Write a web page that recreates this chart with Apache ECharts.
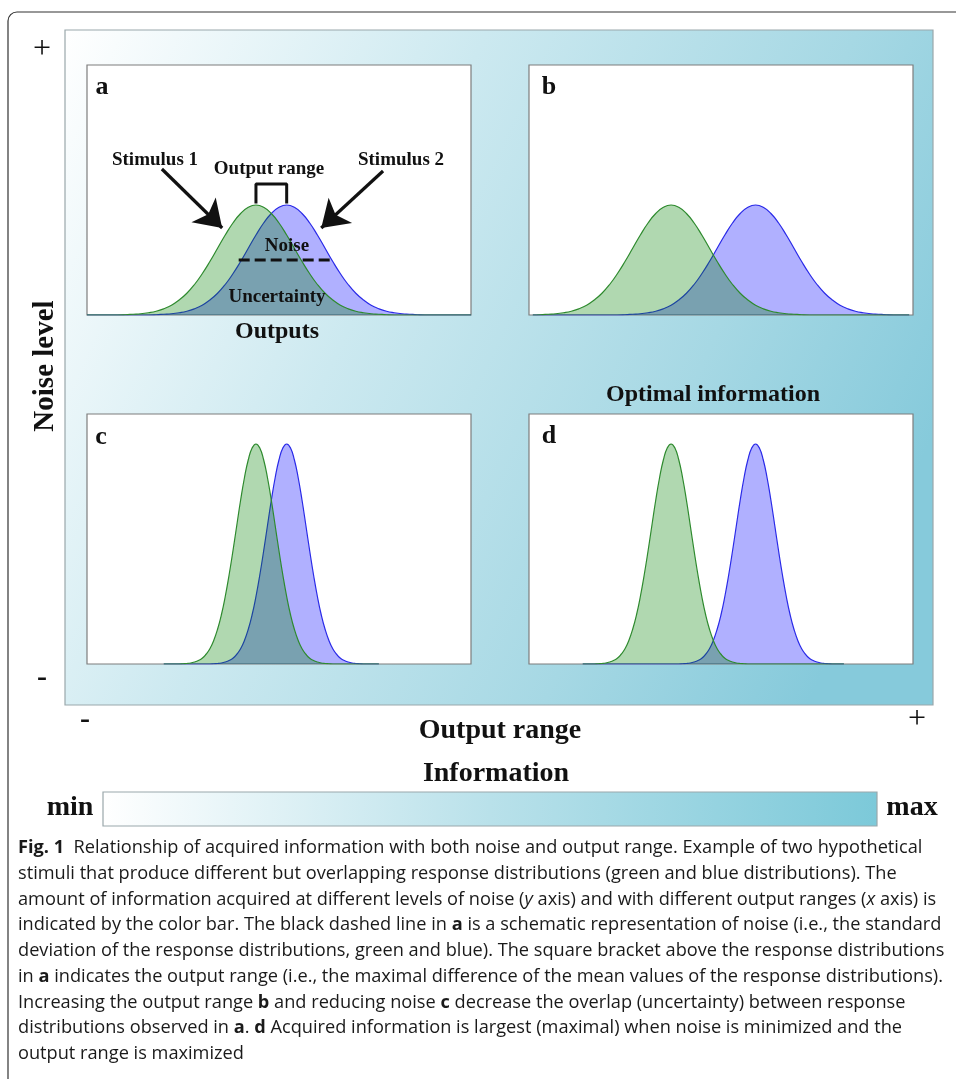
<!DOCTYPE html>
<html>
<head>
<meta charset="utf-8">
<script src="https://cdn.jsdelivr.net/npm/echarts@6.0.0/dist/echarts.min.js"></script>
<style>
html,body{margin:0;padding:0;background:#fff;}
#chart{width:956px;height:1079px;}
</style>
</head>
<body>
<div id="chart"></div>
<script>
// sample positions across each panel (0..100 = panel width)
const gridEven = [0,2,4,6,8,10,12,14,16,18,20,22,24,26,28,30,32,34,36,38,40,42,44,46,48,50,52,54,56,58,60,62,64,66,68,70,72,74,76,78,80,82,84,86,88,90,92,94,96,98,100];
const gridOdd = [1,3,5,7,9,11,13,15,17,19,21,23,25,27,29,31,33,35,37,39,41,43,45,47,49,51,53,55,57,59,61,63,65,67,69,71,73,75,77,79,81,83,85,87,89,91,93,95,97,99];
const gridC = [20,21,22,23,24,25,26,27,28,29,30,31,32,33,34,35,36,37,38,39,40,41,42,43,44,45,46,47,48,49,50,51,52,53,54,55,56,57,58,59,60,61,62,63,64,65,66,67,68,69,70,71,72,73,74,75,76];
const gridD = [14,15,16,17,18,19,20,21,22,23,24,25,26,27,28,29,30,31,32,33,34,35,36,37,38,39,40,41,42,43,44,45,46,47,48,49,50,51,52,53,54,55,56,57,58,59,60,61,62,63,64,65,66,67,68,69,70,71,72,73,74,75,76,77,78,79,80,81,82];

// response distributions (height, 0..100 = panel height)
const aGreen = [0,0,0,0,0, 0.1,0.3,0.5,0.9,1.5,2.5,3.9,6.0,8.7,12.2,16.5,21.4,26.7,32.0,36.8,40.6,43.1,44,43.1,40.6,36.8,32.0,26.7,21.4,16.5,12.2,8.7,6.0,3.9,2.5,1.5,0.9,0.5,0.3,0.1, 0,0,0,0,0, 0,0,0,0,0, 0];
const aBlue  = [0,0,0,0,0, 0,0,0,0, 0.1,0.3,0.5,0.9,1.5,2.5,3.9,6.0,8.7,12.2,16.5,21.4,26.7,32.0,36.8,40.6,43.1,44,43.1,40.6,36.8,32.0,26.7,21.4,16.5,12.2,8.7,6.0,3.9,2.5,1.5,0.9,0.5,0.3,0.1, 0,0,0,0,0, 0,0];
const bGreen = [0, 0.1,0.3,0.5,0.9,1.5,2.5,3.9,6.0,8.7,12.2,16.5,21.4,26.7,32.0,36.8,40.6,43.1,44,43.1,40.6,36.8,32.0,26.7,21.4,16.5,12.2,8.7,6.0,3.9,2.5,1.5,0.9,0.5,0.3,0.1, 0,0,0,0,0, 0,0,0,0,0, 0,0,0,0];
const bBlue  = [0,0,0,0,0, 0,0,0,0,0, 0,0, 0.1,0.3,0.5,0.9,1.5,2.5,3.9,6.0,8.7,12.2,16.5,21.4,26.7,32.0,36.8,40.6,43.1,44,43.1,40.6,36.8,32.0,26.7,21.4,16.5,12.2,8.7,6.0,3.9,2.5,1.5,0.9,0.5,0.3,0.1, 0,0,0];
const cGreen = [0,0,0,0,0, 0.1,0.2,0.4,0.8,1.4,2.3,3.9,6.1,9.4,13.9,19.7,27.0,35.6,45.2,55.4,65.5,74.5,81.7,86.4,88,86.4,81.7,74.5,65.5,55.4,45.2,35.6,27.0,19.7,13.9,9.4,6.1,3.9,2.3,1.4,0.8,0.4,0.2,0.1, 0,0,0,0,0, 0,0,0,0,0, 0,0,0];
const cBlue  = [0,0,0,0,0, 0,0,0,0,0, 0,0,0, 0.1,0.2,0.4,0.8,1.4,2.3,3.9,6.1,9.4,13.9,19.7,27.0,35.6,45.2,55.4,65.5,74.5,81.7,86.4,88,86.4,81.7,74.5,65.5,55.4,45.2,35.6,27.0,19.7,13.9,9.4,6.1,3.9,2.3,1.4,0.8,0.4,0.2,0.1, 0,0,0,0,0];
const dGreen = [0,0,0,0, 0.1,0.2,0.4,0.8,1.4,2.3,3.9,6.1,9.4,13.9,19.7,27.0,35.6,45.2,55.4,65.5,74.5,81.7,86.4,88,86.4,81.7,74.5,65.5,55.4,45.2,35.6,27.0,19.7,13.9,9.4,6.1,3.9,2.3,1.4,0.8,0.4,0.2,0.1, 0,0,0,0,0, 0,0,0,0,0, 0,0,0,0,0, 0,0,0,0,0, 0,0,0,0,0, 0];
const dBlue  = [0,0,0,0,0, 0,0,0,0,0, 0,0,0,0,0, 0,0,0,0,0, 0,0,0,0,0, 0, 0.1,0.2,0.4,0.8,1.4,2.3,3.9,6.1,9.4,13.9,19.7,27.0,35.6,45.2,55.4,65.5,74.5,81.7,86.4,88,86.4,81.7,74.5,65.5,55.4,45.2,35.6,27.0,19.7,13.9,9.4,6.1,3.9,2.3,1.4,0.8,0.4,0.2,0.1, 0,0,0,0];

// annotations in panel a (data units)
const bracketPts = [[44,44.6],[44,52.4],[52,52.4],[52,44.6]];
const noisePts = [[39.5,22],[64.5,22]];
const arrowStim1 = [[19.5,58.4],[35.2,34.8]];
const arrowStim2 = [[77.1,57.6],[61.0,34.8]];

const panelLabels = ['a','b','c','d'];
const captionLines = [
  '{b|Fig. 1}  Relationship of acquired information with both noise and output range. Example of two hypothetical',
  'stimuli that produce different but overlapping response distributions (green and blue distributions). The',
  'amount of information acquired at different levels of noise ({i|y} axis) and with different output ranges ({i|x} axis) is',
  'indicated by the color bar. The black dashed line in {b|a} is a schematic representation of noise (i.e., the standard',
  'deviation of the response distributions, green and blue). The square bracket above the response distributions',
  'in {b|a} indicates the output range (i.e., the maximal difference of the mean values of the response distributions).',
  'Increasing the output range {b|b} and reducing noise {b|c} decrease the overlap (uncertainty) between response',
  'distributions observed in {b|a}. {b|d} Acquired information is largest (maximal) when noise is minimized and the',
  'output range is maximized'
];

const zip = (xs, ys) => xs.map((x, i) => [x, ys[i]]);

const panels = [
  {left:87, top:65, grid:gridEven, green:aGreen, blue:aBlue},
  {left:529, top:65, grid:gridOdd, green:bGreen, blue:bBlue},
  {left:87, top:414, grid:gridC, green:cGreen, blue:cBlue},
  {left:529, top:414, grid:gridD, green:dGreen, blue:dBlue}
];
const PW = 384, PH = 250;

const serif = '"Liberation Serif", "Times New Roman", serif';
const grids = [], xAxes = [], yAxes = [], series = [];
panels.forEach((p, i) => {
  grids.push({left:p.left, top:p.top, width:PW, height:PH, show:true, backgroundColor:'#ffffff', borderColor:'#7d7d7d', borderWidth:1.2, z:1});
  xAxes.push({type:'value', gridIndex:i, min:0, max:100, show:false});
  yAxes.push({type:'value', gridIndex:i, min:0, max:100, show:false});
  series.push({
    type:'line', xAxisIndex:i, yAxisIndex:i, data:zip(p.grid, p.blue), smooth:0.5, symbol:'none',
    lineStyle:{color:'#2a2ae8', width:1.2}, areaStyle:{color:'rgba(0,0,255,0.31)', opacity:1}, silent:true, z:3
  });
  series.push({
    type:'line', xAxisIndex:i, yAxisIndex:i, data:zip(p.grid, p.green), smooth:0.5, symbol:'none',
    lineStyle:{color:'#2e8a2e', width:1.2}, areaStyle:{color:'rgba(0,128,0,0.31)', opacity:1}, silent:true, z:4
  });
});
series.push({
  type:'line', xAxisIndex:0, yAxisIndex:0, data:bracketPts, symbol:'none', silent:true, z:6,
  lineStyle:{color:'#111', width:3}
});
series.push({
  type:'line', xAxisIndex:0, yAxisIndex:0, data:noisePts, symbol:'none', silent:true, z:6,
  lineStyle:{color:'#111', width:3, type:[11,5]},
  markLine:{
    silent:true, symbol:['none','arrow'], symbolSize:26, animation:false,
    label:{show:false}, lineStyle:{color:'#111', width:3.2, type:'solid'},
    data:[
      [{coord:arrowStim1[0]},{coord:arrowStim1[1]}],
      [{coord:arrowStim2[0]},{coord:arrowStim2[1]}]
    ]
  }
});

function txt(text, x, y, size, weight, rotation) {
  return {
    type:'text', z:100, silent:true, x:x, y:y, rotation: rotation || 0,
    style:{text:text, x:0, y:0, font: (weight||'bold') + ' ' + size + 'px ' + serif,
      fill:'#111', textAlign:'center', textVerticalAlign:'middle', align:'center', verticalAlign:'middle'}
  };
}

const graphics = [
  {type:'rect', z:-20, silent:true, shape:{x:8, y:12, width:1000, height:1100, r:9},
   style:{fill:'none', stroke:'#333', lineWidth:1.2}},
  {type:'rect', z:-10, silent:true, shape:{x:65, y:30, width:868, height:675},
   style:{fill:{type:'linear', x:0, y:0, x2:1, y2:0.6, colorStops:[
     {offset:0, color:'#ffffff'}, {offset:0.4, color:'#cce9f0'}, {offset:0.75, color:'#a6d8e4'}, {offset:1, color:'#86cadb'}]},
     stroke:'#9aa7ab', lineWidth:1.2}},
  {type:'rect', z:-10, silent:true, shape:{x:103, y:792, width:774, height:34},
   style:{fill:{type:'linear', x:0, y:0, x2:1, y2:0, colorStops:[
     {offset:0, color:'#ffffff'}, {offset:0.5, color:'#b9e1ea'}, {offset:1, color:'#7cc9d9'}]},
     stroke:'#9aa7ab', lineWidth:1.2}},
  txt('+', 42, 50, 32, 'normal'),
  txt('-', 42, 678, 30, 'bold'),
  txt('-', 85, 720, 30, 'bold'),
  txt('+', 917, 720, 32, 'normal'),
  txt('Noise level', 46, 366, 29, 'bold', Math.PI/2),
  txt('Output range', 500, 731, 28, 'bold'),
  txt('Information', 496, 774, 28, 'bold'),
  txt('min', 70, 808, 28, 'bold'),
  txt('max', 912, 808, 28, 'bold'),
  txt('Optimal information', 713, 395, 24, 'bold'),
  txt('Stimulus 1', 155, 160, 19, 'bold'),
  txt('Output range', 269, 169, 19, 'bold'),
  txt('Stimulus 2', 401, 160, 19, 'bold'),
  txt('Noise', 287, 246, 19, 'bold'),
  txt('Uncertainty', 277, 297, 19, 'bold'),
  txt('Outputs', 277, 332, 24, 'bold')
];
const labelPos = [[102,87],[549,87],[101,437],[549,436]];
panelLabels.forEach((l, i) => graphics.push(txt(l, labelPos[i][0], labelPos[i][1], 26, 'bold')));

const capFont = '"Open Sans", "Noto Sans", sans-serif';
const capSize = 18.2;
captionLines.forEach((line, i) => {
  graphics.push({
    type:'text', z:100, silent:true,
    style:{text:line, x:18, y:848 + i*25.75, fontSize:capSize, fontFamily:capFont, fill:'#1a1a1a',
      textAlign:'left', textVerticalAlign:'middle', align:'left', verticalAlign:'middle',
      rich:{
        b:{fontWeight:'bold', fontSize:capSize, fontFamily:capFont, fill:'#1a1a1a'},
        i:{fontStyle:'italic', fontSize:capSize, fontFamily:capFont, fill:'#1a1a1a'}
      }}
  });
});

const chart = echarts.init(document.getElementById('chart'), null, {renderer:'canvas'});
chart.setOption({
  animation:false,
  backgroundColor:'#ffffff',
  grid:grids, xAxis:xAxes, yAxis:yAxes, series:series,
  graphic:graphics
});
</script>
</body>
</html>
